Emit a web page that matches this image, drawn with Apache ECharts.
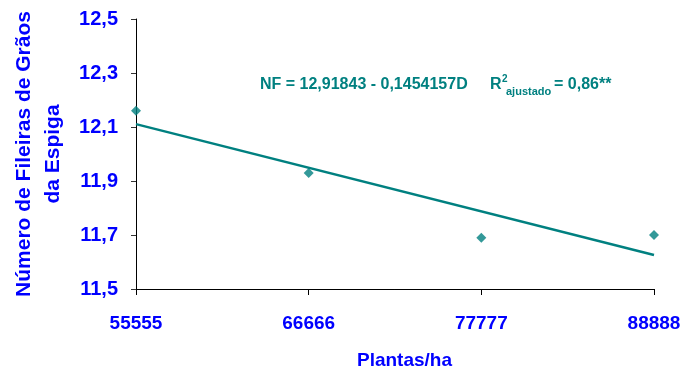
<!DOCTYPE html>
<html><head><meta charset="utf-8">
<script src="https://cdn.jsdelivr.net/npm/echarts@6/dist/echarts.min.js"></script>
<style>html,body{margin:0;padding:0;background:#fff}#c{width:685px;height:374px}</style>
</head><body><div id="c"></div>
<script>
const plantas = [55555, 66666, 77777, 88888];
const fileiras = [12.16, 11.93, 11.69, 11.70];
const coefA = 12.91843, coefB = 0.1454157; // NF = a - b*D, D = plantas/10000
const yTicks = [11.5, 12.5, 0.2];

const pts = plantas.map((p, i) => [p, fileiras[i]]);
const xEnds = [plantas[0], plantas[plantas.length - 1]];
const trend = xEnds.map(x => [x, coefA - coefB * x / 10000]);

const blue = '#0000ff', teal = '#008080', ff = 'Liberation Sans, Arial, sans-serif';
const chart = echarts.init(document.getElementById('c'));
chart.setOption({
  animation: false,
  grid: {left: 136, right: 31, top: 19, bottom: 85, containLabel: false, outerBoundsMode: 'none'},
  xAxis: {
    type: 'value', min: plantas[0], max: plantas[3], interval: plantas[1] - plantas[0],
    splitLine: {show: false},
    axisLine: {show: true, lineStyle: {color: '#000', width: 1}},
    axisTick: {show: true, length: 6, lineStyle: {color: '#000'}},
    axisLabel: {color: blue, fontSize: 19, fontWeight: 'bold', fontFamily: ff, margin: 25,
      formatter: v => String(v), showMinLabel: true, showMaxLabel: true, hideOverlap: false}
  },
  yAxis: {
    type: 'value', min: yTicks[0], max: yTicks[1], interval: yTicks[2],
    splitLine: {show: false},
    axisLine: {show: true, lineStyle: {color: '#000', width: 1}},
    axisTick: {show: true, length: 5, lineStyle: {color: '#333'}},
    axisLabel: {color: blue, fontSize: 20, fontWeight: 'bold', fontFamily: ff, margin: 18,
      formatter: v => v.toFixed(1).replace('.', ',')},
    name: 'Número de Fileiras de Grãos\nda Espiga', nameLocation: 'middle', nameGap: 68,
    nameTextStyle: {color: blue, fontSize: 21, fontWeight: 'bold', fontFamily: ff, lineHeight: 29}
  },
  graphic: [
    {type: 'text', left: 357, top: 351, style: {text: 'Plantas/ha', fill: blue, font: 'bold 19px ' + ff, align: 'center'}},
    {type: 'text', x: 260, y: 85, style: {text: 'NF = 12,91843 - 0,1454157D', fill: teal, font: 'bold 16px ' + ff, verticalAlign: 'middle'}},
    {type: 'text', x: 490, y: 85, style: {text: 'R', fill: teal, font: 'bold 16px ' + ff, verticalAlign: 'middle'}},
    {type: 'text', x: 502, y: 79, style: {text: '2', fill: teal, font: 'bold 10px ' + ff, verticalAlign: 'middle'}},
    {type: 'text', x: 506, y: 92, style: {text: 'ajustado', fill: teal, font: 'bold 11px ' + ff, verticalAlign: 'middle'}},
    {type: 'text', x: 554, y: 85, style: {text: '= 0,86**', fill: teal, font: 'bold 16px ' + ff, verticalAlign: 'middle'}}
  ],
  series: [
    {type: 'line', data: trend, symbol: 'none', lineStyle: {color: teal, width: 2.5}, z: 2},
    {type: 'scatter', data: pts, symbol: 'diamond', symbolSize: [10, 10], itemStyle: {color: teal}, z: 3}
  ]
});
</script></body></html>
